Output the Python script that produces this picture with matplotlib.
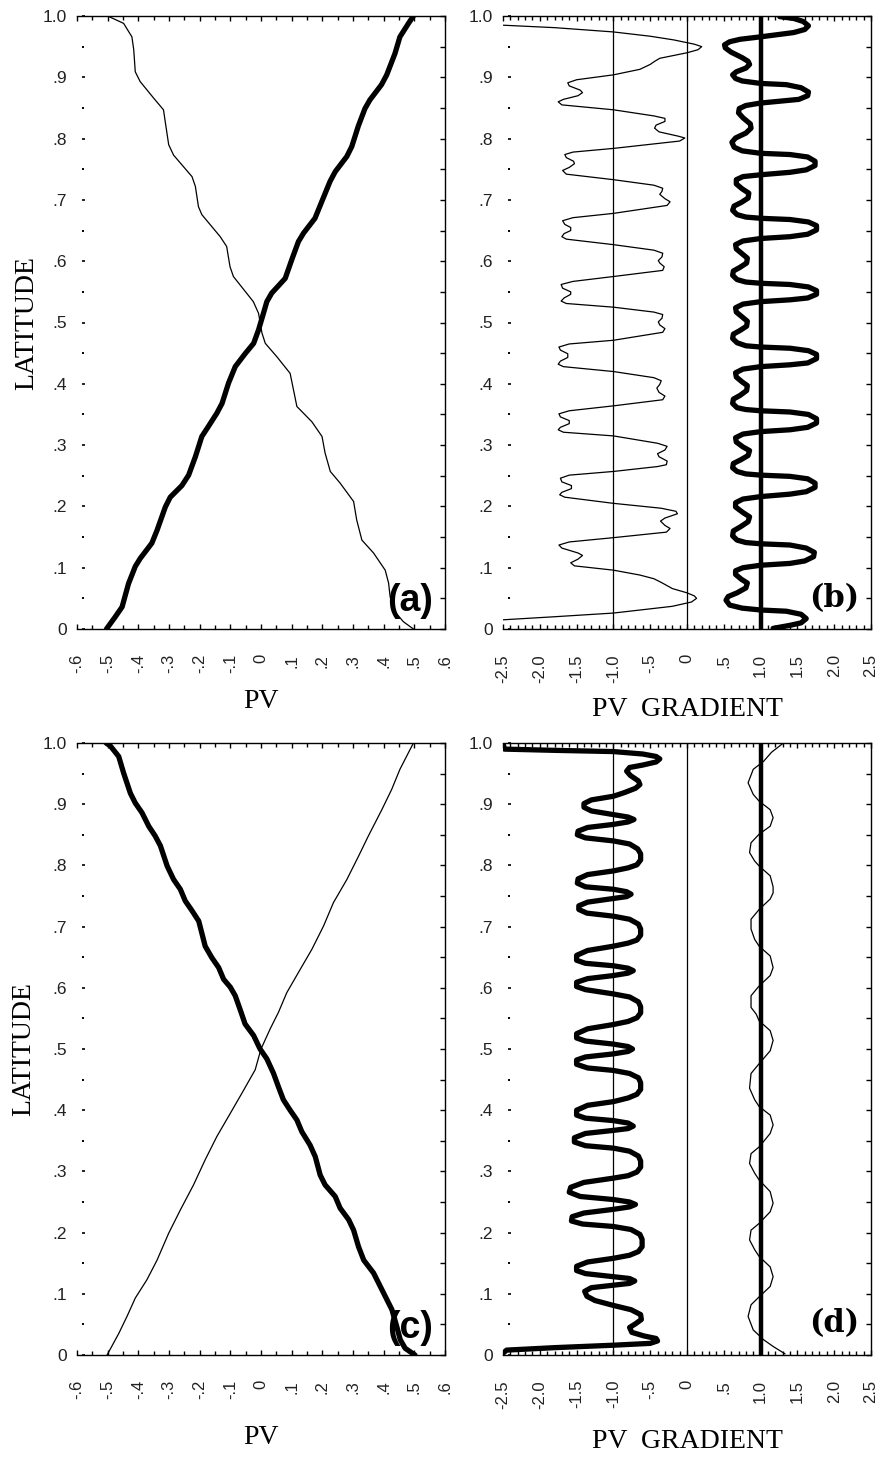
import numpy as np
import matplotlib
matplotlib.use("Agg")
import matplotlib.pyplot as plt
from matplotlib.ticker import MultipleLocator

# ====== DATA (value, latitude) ======
# (a) PV profiles
a_thick = np.array([
    [-0.504, 0.000], [-0.475, 0.020], [-0.453, 0.036], [-0.432, 0.074], [-0.410, 0.102],
    [-0.394, 0.115], [-0.356, 0.140], [-0.339, 0.161], [-0.312, 0.199], [-0.296, 0.215],
    [-0.258, 0.234], [-0.236, 0.251], [-0.214, 0.281], [-0.193, 0.314], [-0.176, 0.327],
    [-0.144, 0.352], [-0.127, 0.368], [-0.106, 0.401], [-0.084, 0.428], [-0.052, 0.449],
    [-0.024, 0.466], [-0.008, 0.488], [0.008, 0.515], [0.019, 0.534], [0.035, 0.548],
    [0.079, 0.572], [0.100, 0.602], [0.122, 0.632], [0.139, 0.646], [0.176, 0.670],
    [0.198, 0.697], [0.225, 0.730], [0.242, 0.746], [0.280, 0.771], [0.296, 0.787],
    [0.317, 0.820], [0.339, 0.849], [0.355, 0.863], [0.393, 0.888], [0.410, 0.904],
    [0.437, 0.939], [0.453, 0.966], [0.481, 0.988], [0.497, 1.000]])
a_thin = np.array([
    [0.497, 0.000], [0.464, 0.012], [0.432, 0.031], [0.421, 0.053], [0.416, 0.075],
    [0.405, 0.096], [0.367, 0.124], [0.329, 0.145], [0.312, 0.178], [0.302, 0.208],
    [0.258, 0.238], [0.226, 0.257], [0.209, 0.287], [0.199, 0.314], [0.166, 0.338],
    [0.117, 0.363], [0.106, 0.390], [0.095, 0.417], [0.052, 0.444], [0.014, 0.466],
    [0.003, 0.483], [-0.008, 0.515], [-0.025, 0.534], [-0.090, 0.575], [-0.101, 0.591],
    [-0.112, 0.624], [-0.133, 0.640], [-0.193, 0.676], [-0.204, 0.689], [-0.214, 0.722],
    [-0.225, 0.738], [-0.285, 0.773], [-0.301, 0.790], [-0.310, 0.820], [-0.318, 0.847],
    [-0.350, 0.866], [-0.394, 0.893], [-0.410, 0.909], [-0.415, 0.945], [-0.421, 0.966],
    [-0.448, 0.988], [-0.500, 1.000]])

# (b) PV gradient
b_thin = np.array([
    [-2.50, 0.985], [-1.80, 0.981], [-1.00, 0.974], [-0.50, 0.967], [-0.18, 0.961],
    [0.10, 0.954], [0.20, 0.950], [0.15, 0.945], [0.00, 0.940], [-0.25, 0.934],
    [-0.37, 0.931], [-0.44, 0.926], [-0.50, 0.921], [-0.64, 0.913], [-1.00, 0.904],
    [-1.50, 0.896], [-1.62, 0.891], [-1.60, 0.886], [-1.45, 0.879], [-1.42, 0.875],
    [-1.48, 0.870], [-1.68, 0.864], [-1.75, 0.860], [-1.70, 0.855], [-1.00, 0.847],
    [-0.45, 0.837], [-0.30, 0.833], [-0.30, 0.828], [-0.42, 0.822], [-0.44, 0.817],
    [-0.38, 0.811], [-0.12, 0.804], [-0.03, 0.801], [-0.10, 0.796], [-1.00, 0.784],
    [-1.55, 0.778], [-1.66, 0.774], [-1.64, 0.769], [-1.54, 0.763], [-1.53, 0.759],
    [-1.60, 0.753], [-1.69, 0.748], [-1.64, 0.742], [-1.00, 0.733],
    [-0.45, 0.724], [-0.33, 0.719], [-0.34, 0.714], [-0.37, 0.709], [-0.30, 0.702],
    [-0.23, 0.697], [-0.27, 0.691], [-1.00, 0.678],
    [-1.55, 0.671], [-1.69, 0.666], [-1.66, 0.660], [-1.58, 0.655], [-1.58, 0.650],
    [-1.67, 0.645], [-1.70, 0.640], [-1.64, 0.636], [-1.00, 0.627],
    [-0.45, 0.618], [-0.33, 0.613], [-0.34, 0.607], [-0.39, 0.601], [-0.37, 0.597],
    [-0.31, 0.591], [-0.33, 0.585], [-1.00, 0.575],
    [-1.55, 0.567], [-1.71, 0.562], [-1.69, 0.556], [-1.58, 0.550], [-1.58, 0.546],
    [-1.67, 0.540], [-1.71, 0.535], [-1.64, 0.531], [-1.00, 0.525],
    [-0.45, 0.517], [-0.33, 0.513], [-0.34, 0.507], [-0.39, 0.501], [-0.37, 0.496],
    [-0.30, 0.490], [-0.33, 0.484], [-1.00, 0.471],
    [-1.60, 0.465], [-1.74, 0.460], [-1.72, 0.455], [-1.62, 0.449], [-1.62, 0.443],
    [-1.72, 0.437], [-1.75, 0.432], [-1.68, 0.428], [-1.00, 0.420],
    [-0.45, 0.410], [-0.35, 0.405], [-0.37, 0.399], [-0.41, 0.393], [-0.38, 0.386],
    [-0.30, 0.380], [-0.33, 0.374], [-1.00, 0.364],
    [-1.60, 0.356], [-1.74, 0.351], [-1.72, 0.346], [-1.60, 0.340], [-1.60, 0.335],
    [-1.72, 0.329], [-1.75, 0.325], [-1.68, 0.321], [-1.00, 0.315],
    [-0.40, 0.303], [-0.27, 0.298], [-0.30, 0.292], [-0.40, 0.286], [-0.38, 0.281],
    [-0.27, 0.274], [-0.28, 0.268], [-0.40, 0.265], [-1.00, 0.257],
    [-1.60, 0.251], [-1.72, 0.246], [-1.70, 0.240], [-1.57, 0.234], [-1.57, 0.229],
    [-1.70, 0.223], [-1.73, 0.219], [-1.66, 0.215], [-1.00, 0.205],
    [-0.35, 0.197], [-0.15, 0.192], [-0.13, 0.188], [-0.30, 0.181], [-0.36, 0.176],
    [-0.30, 0.169], [-0.23, 0.164], [-0.28, 0.158], [-1.00, 0.149],
    [-1.60, 0.142], [-1.74, 0.137], [-1.70, 0.132], [-1.48, 0.124], [-1.42, 0.120],
    [-1.48, 0.114], [-1.58, 0.108], [-1.53, 0.103], [-1.00, 0.096],
    [-0.64, 0.088], [-0.45, 0.082], [-0.35, 0.076], [-0.20, 0.066], [0.00, 0.059],
    [0.10, 0.054], [0.13, 0.050], [0.06, 0.044], [-0.20, 0.037], [-1.00, 0.026],
    [-1.80, 0.020], [-2.50, 0.015]])
b_thick = np.array([
    [1.26, 0.999], [1.45, 0.996], [1.58, 0.991], [1.65, 0.984], [1.60, 0.978],
    [1.45, 0.973], [1.00, 0.966], [0.72, 0.962], [0.58, 0.958], [0.51, 0.953],
    [0.52, 0.948], [0.60, 0.941], [0.75, 0.932], [0.83, 0.926], [0.85, 0.921],
    [0.80, 0.915], [0.67, 0.909], [0.62, 0.904], [0.66, 0.898], [0.75, 0.894],
    [1.00, 0.890], [1.35, 0.888], [1.55, 0.883], [1.65, 0.876], [1.64, 0.870],
    [1.52, 0.864], [1.00, 0.858],
    [0.80, 0.854], [0.71, 0.849], [0.70, 0.842], [0.76, 0.834], [0.86, 0.824],
    [0.87, 0.817], [0.80, 0.809], [0.66, 0.801], [0.61, 0.794], [0.64, 0.786],
    [0.75, 0.780], [1.00, 0.776],
    [1.40, 0.774], [1.64, 0.770], [1.74, 0.763], [1.74, 0.756], [1.62, 0.749],
    [1.40, 0.745], [1.00, 0.741],
    [0.76, 0.738], [0.67, 0.733], [0.67, 0.726], [0.75, 0.718], [0.84, 0.711],
    [0.83, 0.703], [0.74, 0.696], [0.64, 0.690], [0.62, 0.683], [0.68, 0.676],
    [0.80, 0.672], [1.00, 0.670],
    [1.40, 0.668], [1.65, 0.664], [1.76, 0.658], [1.76, 0.651], [1.64, 0.644],
    [1.40, 0.640], [1.00, 0.637],
    [0.76, 0.633], [0.66, 0.627], [0.67, 0.620], [0.75, 0.612], [0.82, 0.605],
    [0.81, 0.597], [0.72, 0.590], [0.63, 0.584], [0.62, 0.577], [0.68, 0.570],
    [0.80, 0.566], [1.00, 0.564],
    [1.40, 0.562], [1.65, 0.558], [1.76, 0.552], [1.76, 0.546], [1.64, 0.540],
    [1.40, 0.537], [1.00, 0.534],
    [0.76, 0.530], [0.66, 0.524], [0.67, 0.517], [0.75, 0.509], [0.82, 0.502],
    [0.81, 0.494], [0.72, 0.487], [0.63, 0.481], [0.62, 0.474], [0.68, 0.467],
    [0.80, 0.462], [1.00, 0.460],
    [1.40, 0.458], [1.65, 0.454], [1.76, 0.448], [1.76, 0.441], [1.64, 0.434],
    [1.40, 0.431], [1.00, 0.428],
    [0.76, 0.424], [0.66, 0.418], [0.67, 0.411], [0.75, 0.403], [0.82, 0.397],
    [0.81, 0.389], [0.72, 0.381], [0.63, 0.375], [0.62, 0.368], [0.68, 0.361],
    [0.80, 0.358], [1.00, 0.356],
    [1.40, 0.354], [1.65, 0.350], [1.76, 0.343], [1.76, 0.336], [1.64, 0.329],
    [1.40, 0.325], [1.00, 0.322],
    [0.76, 0.318], [0.66, 0.312], [0.67, 0.305], [0.76, 0.297], [0.85, 0.291],
    [0.83, 0.283], [0.73, 0.276], [0.63, 0.270], [0.62, 0.263], [0.68, 0.257],
    [0.80, 0.253], [1.00, 0.251],
    [1.40, 0.249], [1.64, 0.245], [1.74, 0.238], [1.74, 0.231], [1.62, 0.224],
    [1.40, 0.220], [1.00, 0.216],
    [0.76, 0.212], [0.66, 0.206], [0.66, 0.199], [0.76, 0.190], [0.85, 0.183],
    [0.83, 0.175], [0.73, 0.167], [0.63, 0.160], [0.62, 0.152], [0.68, 0.145],
    [0.80, 0.141], [1.00, 0.139],
    [1.40, 0.137], [1.62, 0.132], [1.73, 0.125], [1.72, 0.118], [1.60, 0.111],
    [1.40, 0.107], [1.00, 0.104],
    [0.76, 0.100], [0.66, 0.095], [0.66, 0.089], [0.74, 0.081], [0.82, 0.075],
    [0.80, 0.067], [0.68, 0.059], [0.56, 0.053], [0.53, 0.047], [0.58, 0.039],
    [0.75, 0.034], [1.00, 0.031],
    [1.35, 0.029], [1.55, 0.024], [1.62, 0.017], [1.55, 0.010], [1.40, 0.006],
    [1.17, 0.001]])

# (c) PV profiles
c_thick = np.array([
    [0.502, 0.000], [0.470, 0.011], [0.454, 0.025], [0.443, 0.046], [0.427, 0.074],
    [0.411, 0.090], [0.384, 0.117], [0.367, 0.134], [0.335, 0.155], [0.318, 0.177],
    [0.302, 0.204], [0.286, 0.221], [0.258, 0.240], [0.242, 0.259], [0.209, 0.278],
    [0.193, 0.294], [0.177, 0.324], [0.160, 0.343], [0.133, 0.365], [0.117, 0.384],
    [0.095, 0.400], [0.073, 0.417], [0.057, 0.438], [0.041, 0.460], [0.019, 0.484],
    [-0.003, 0.500], [-0.024, 0.522], [-0.052, 0.541], [-0.067, 0.563], [-0.084, 0.587],
    [-0.100, 0.601], [-0.122, 0.614], [-0.138, 0.633], [-0.160, 0.649], [-0.182, 0.668],
    [-0.203, 0.709], [-0.225, 0.726], [-0.247, 0.742], [-0.263, 0.761], [-0.285, 0.777],
    [-0.306, 0.799], [-0.328, 0.832], [-0.345, 0.848], [-0.366, 0.864], [-0.388, 0.886],
    [-0.410, 0.902], [-0.426, 0.918], [-0.448, 0.951], [-0.464, 0.978], [-0.491, 0.995],
    [-0.505, 1.000]])
c_thin = np.array([
    [-0.502, 0.000], [-0.464, 0.035], [-0.437, 0.063], [-0.410, 0.093], [-0.372, 0.123],
    [-0.339, 0.155], [-0.301, 0.199], [-0.263, 0.237], [-0.220, 0.278], [-0.182, 0.319],
    [-0.144, 0.357], [-0.100, 0.395], [-0.062, 0.428], [-0.019, 0.466], [0.000, 0.500],
    [0.030, 0.533], [0.057, 0.560], [0.084, 0.592], [0.122, 0.625], [0.166, 0.663],
    [0.204, 0.701], [0.236, 0.739], [0.280, 0.777], [0.318, 0.815], [0.350, 0.848],
    [0.394, 0.891], [0.426, 0.924], [0.453, 0.957], [0.497, 1.000]])

# (d) PV gradient
d_thick = np.array([
    [-2.50, 1.000], [-2.48, 0.990], [-1.80, 0.988], [-1.00, 0.986], [-0.60, 0.982],
    [-0.42, 0.978], [-0.37, 0.974], [-0.42, 0.969], [-0.60, 0.964], [-0.78, 0.960],
    [-0.82, 0.954], [-0.77, 0.947], [-0.66, 0.938], [-0.64, 0.932], [-0.70, 0.926],
    [-0.85, 0.919], [-1.00, 0.913], [-1.30, 0.907], [-1.40, 0.901], [-1.40, 0.895],
    [-1.30, 0.889], [-1.00, 0.883], [-0.80, 0.879], [-0.72, 0.875], [-0.80, 0.871],
    [-1.00, 0.867], [-1.35, 0.862], [-1.48, 0.856], [-1.49, 0.850], [-1.38, 0.845],
    [-1.00, 0.840], [-0.78, 0.835], [-0.67, 0.827], [-0.63, 0.819], [-0.63, 0.809],
    [-0.68, 0.801], [-0.80, 0.796], [-1.00, 0.791], [-1.35, 0.785], [-1.48, 0.778],
    [-1.49, 0.771], [-1.38, 0.765], [-1.00, 0.761], [-0.82, 0.757], [-0.76, 0.753],
    [-0.82, 0.749], [-1.00, 0.746], [-1.35, 0.740], [-1.47, 0.734], [-1.47, 0.728],
    [-1.36, 0.722], [-1.00, 0.717], [-0.78, 0.712], [-0.66, 0.704], [-0.63, 0.696],
    [-0.63, 0.686], [-0.68, 0.678], [-0.80, 0.673], [-1.00, 0.668], [-1.35, 0.661],
    [-1.50, 0.653], [-1.50, 0.645], [-1.38, 0.640], [-1.00, 0.636], [-0.80, 0.632],
    [-0.73, 0.628], [-0.80, 0.624], [-1.00, 0.620], [-1.35, 0.615], [-1.50, 0.609],
    [-1.50, 0.602], [-1.38, 0.597], [-1.00, 0.590], [-0.78, 0.585], [-0.66, 0.577],
    [-0.63, 0.569], [-0.63, 0.559], [-0.68, 0.551], [-0.80, 0.545], [-1.00, 0.540],
    [-1.35, 0.533], [-1.50, 0.525], [-1.50, 0.518], [-1.38, 0.513], [-1.00, 0.508],
    [-0.80, 0.504], [-0.74, 0.500], [-0.80, 0.496], [-1.00, 0.492], [-1.38, 0.487],
    [-1.50, 0.482], [-1.50, 0.475], [-1.35, 0.469], [-1.00, 0.465], [-0.78, 0.460],
    [-0.66, 0.453], [-0.63, 0.445], [-0.63, 0.434], [-0.68, 0.426], [-0.80, 0.420],
    [-1.00, 0.414], [-1.35, 0.408], [-1.50, 0.400], [-1.50, 0.392], [-1.38, 0.387],
    [-1.00, 0.383], [-0.80, 0.379], [-0.73, 0.374], [-0.80, 0.370], [-1.00, 0.367],
    [-1.38, 0.362], [-1.53, 0.355], [-1.53, 0.348], [-1.38, 0.342], [-1.00, 0.338],
    [-0.78, 0.333], [-0.66, 0.325], [-0.63, 0.317], [-0.63, 0.307], [-0.68, 0.299],
    [-0.80, 0.293], [-1.00, 0.289], [-1.40, 0.282], [-1.58, 0.274], [-1.60, 0.266],
    [-1.45, 0.259], [-1.00, 0.254], [-0.78, 0.250], [-0.70, 0.246], [-0.78, 0.242],
    [-1.00, 0.238], [-1.40, 0.232], [-1.56, 0.226], [-1.57, 0.219], [-1.42, 0.214],
    [-1.00, 0.210], [-0.76, 0.205], [-0.64, 0.197], [-0.61, 0.189], [-0.61, 0.177],
    [-0.66, 0.169], [-0.78, 0.163], [-1.00, 0.158], [-1.35, 0.152], [-1.50, 0.145],
    [-1.50, 0.138], [-1.38, 0.133], [-1.00, 0.128], [-0.78, 0.125], [-0.71, 0.121],
    [-0.78, 0.117], [-1.00, 0.114], [-1.30, 0.110], [-1.39, 0.104], [-1.36, 0.096],
    [-1.25, 0.089], [-1.00, 0.081], [-0.76, 0.074], [-0.63, 0.066], [-0.62, 0.058],
    [-0.70, 0.051], [-0.78, 0.045], [-0.75, 0.037], [-0.58, 0.031], [-0.42, 0.027],
    [-0.40, 0.023], [-0.50, 0.019], [-1.00, 0.016], [-1.80, 0.012], [-2.45, 0.008],
    [-2.50, 0.003]])
d_thin = np.array([
    [1.31, 1.000], [1.15, 0.985], [1.04, 0.970], [0.90, 0.957], [0.83, 0.935],
    [0.90, 0.916], [0.98, 0.905], [1.13, 0.891], [1.17, 0.878], [1.13, 0.864],
    [0.98, 0.851], [0.87, 0.837], [0.85, 0.821], [0.92, 0.807], [0.98, 0.799],
    [1.13, 0.783], [1.17, 0.765], [1.17, 0.755], [1.13, 0.745], [0.98, 0.728],
    [0.87, 0.712], [0.87, 0.696], [0.92, 0.679], [0.98, 0.668], [1.13, 0.652],
    [1.17, 0.633], [1.13, 0.620], [0.98, 0.603], [0.87, 0.587], [0.87, 0.568],
    [0.94, 0.557], [0.98, 0.546], [1.13, 0.530], [1.17, 0.514], [1.13, 0.497],
    [0.98, 0.476], [0.87, 0.460], [0.85, 0.436], [0.92, 0.417], [0.98, 0.406],
    [1.13, 0.392], [1.17, 0.376], [1.13, 0.362], [0.98, 0.340], [0.87, 0.329],
    [0.85, 0.313], [0.92, 0.297], [0.98, 0.286], [1.13, 0.267], [1.17, 0.248],
    [1.13, 0.234], [0.98, 0.215], [0.87, 0.204], [0.85, 0.188], [0.92, 0.172],
    [0.98, 0.161], [1.13, 0.144], [1.17, 0.128], [1.13, 0.112], [0.98, 0.095],
    [0.87, 0.082], [0.83, 0.063], [0.90, 0.041], [1.04, 0.025], [1.17, 0.014],
    [1.33, 0.002]])

# reference lines in the gradient panels
grad_thin_refs = [-1.0, 0.0]
grad_thick_ref = 1.0

# tick labels
lat_ticks = np.arange(0, 1.01, 0.1)
lat_labels = ['0', '.1', '.2', '.3', '.4', '.5', '.6', '.7', '.8', '.9', '1.0']
pv_ticks = np.arange(-0.6, 0.61, 0.1)
pv_labels = ['-.6', '-.5', '-.4', '-.3', '-.2', '-.1', '0', '.1', '.2', '.3', '.4', '.5', '.6']
grad_ticks = np.arange(-2.5, 2.51, 0.5)
grad_labels = ['-2.5', '-2.0', '-1.5', '-1.0', '-.5', '0', '.5', '1.0', '1.5', '2.0', '2.5']

SANS = 'Liberation Sans'
SERIF = 'Liberation Serif'
W, H = 880, 1457


def box(l, t, r, b):
    return [l / W, 1 - b / H, (r - l) / W, (b - t) / H]


def style(ax, xlim, xt, xl, xminor, xlabel, xlab_y, lat_x, letter, letter_font, letter_size, letter_y):
    ax.set_xlim(*xlim)
    ax.set_ylim(0, 1)
    for sp in ax.spines.values():
        sp.set_linewidth(1.0)
    # left axis: no spine line, short ticks sitting just inside
    ax.spines['left'].set_position(('outward', -3.6))
    ax.spines['left'].set_color('none')
    ax.set_yticks(lat_ticks)
    ax.set_yticklabels(lat_labels, family=SANS, fontsize=12.5, color='#222222')
    ax.yaxis.set_minor_locator(MultipleLocator(0.05))
    ax.tick_params(axis='y', which='major', direction='in', length=2.5, width=1.2,
                   pad=11, left=True, right=False)
    ax.tick_params(axis='y', which='minor', direction='in', length=1.2, width=1.4,
                   left=True, right=False)
    # right axis ticks (every .05)
    tw = ax.twinx()
    tw.set_ylim(0, 1)
    tw.yaxis.set_major_locator(MultipleLocator(0.05))
    tw.tick_params(axis='y', direction='in', length=3.6, width=1.0, labelright=False)
    for sp in tw.spines.values():
        sp.set_visible(False)
    # x axis: ticks top and bottom, labels rotated
    ax.set_xticks(xt)
    ax.set_xticklabels(xl, rotation=90, va='top', ha='center', family=SANS,
                       fontsize=12, color='#222222')
    ax.xaxis.set_minor_locator(MultipleLocator(xminor))
    ax.tick_params(axis='x', which='major', direction='in', length=3.5, width=1.0,
                   top=True, bottom=True, pad=18)
    ax.tick_params(axis='x', which='minor', direction='in', length=3.0, width=1.0,
                   top=True, bottom=True)
    ax.text(0.5, xlab_y, xlabel, transform=ax.transAxes, ha='center', va='center',
            family=SERIF, fontsize=20)
    if lat_x is not None:
        ax.text(lat_x, 0.5, 'LATITUDE', transform=ax.transAxes, rotation=90,
                ha='center', va='center', family=SERIF, fontsize=20)
    ax.text(0.968, letter_y, letter, transform=ax.transAxes, ha='right', va='center',
            family=letter_font, fontweight='bold', fontsize=letter_size, zorder=5)


fig = plt.figure(figsize=(W / 100, H / 100), dpi=100)
ax_a = fig.add_axes(box(77, 16, 445, 629))
ax_b = fig.add_axes(box(503, 16, 871, 629))
ax_c = fig.add_axes(box(77, 743, 445, 1355))
ax_d = fig.add_axes(box(503, 743, 871, 1355))

thick = dict(color='black', lw=3.8, solid_joinstyle='round', solid_capstyle='round')
thin = dict(color='black', lw=0.9, solid_joinstyle='round')

# (a)
ax_a.plot(a_thin[:, 0], a_thin[:, 1], **thin)
ax_a.plot(a_thick[:, 0], a_thick[:, 1], **thick)
style(ax_a, (-0.6, 0.6), pv_ticks, pv_labels, 0.05, 'PV', -0.119, -0.138,
      '(a)', SANS, 27, 0.045)

# (b)
for v in grad_thin_refs:
    ax_b.axvline(v, color='black', lw=0.9)
ax_b.axvline(grad_thick_ref, color='black', lw=3.2)
ax_b.plot(b_thin[:, 0], b_thin[:, 1], **thin)
ax_b.plot(b_thick[:, 0], b_thick[:, 1], **thick)
style(ax_b, (-2.5, 2.5), grad_ticks, grad_labels, 0.1, 'PV  GRADIENT', -0.132, None,
      '(b)', 'DejaVu Serif', 22, 0.05)

# (c)
ax_c.plot(c_thin[:, 0], c_thin[:, 1], **thin)
ax_c.plot(c_thick[:, 0], c_thick[:, 1], **thick)
style(ax_c, (-0.6, 0.6), pv_ticks, pv_labels, 0.05, 'PV', -0.134, -0.145,
      '(c)', SANS, 27, 0.044)

# (d)
for v in grad_thin_refs:
    ax_d.axvline(v, color='black', lw=0.9)
ax_d.axvline(grad_thick_ref, color='black', lw=3.2)
ax_d.plot(d_thick[:, 0], d_thick[:, 1], **thick)
ax_d.plot(d_thin[:, 0], d_thin[:, 1], **thin)
style(ax_d, (-2.5, 2.5), grad_ticks, grad_labels, 0.1, 'PV  GRADIENT', -0.141, None,
      '(d)', 'DejaVu Serif', 22, 0.052)

fig.savefig('out.png', dpi=100)
